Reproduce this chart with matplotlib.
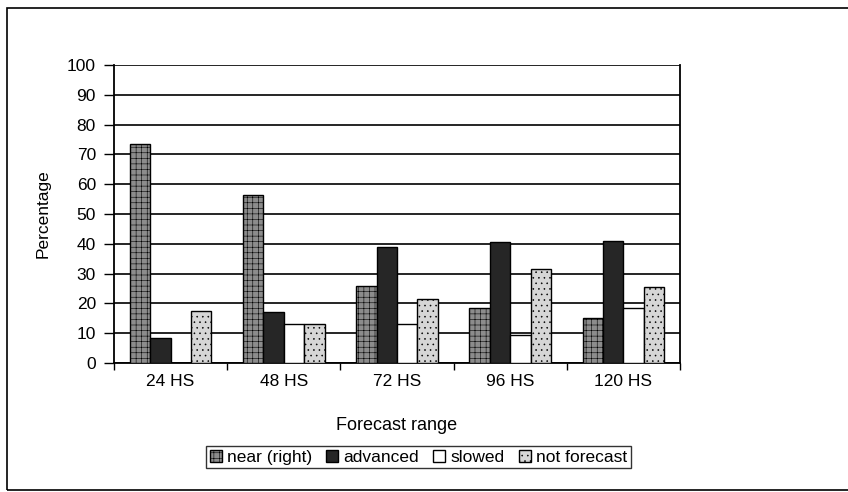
import numpy as np
import matplotlib.pyplot as plt
from matplotlib.patches import Rectangle

categories = ['24 HS', '48 HS', '72 HS', '96 HS', '120 HS']
near_right = [73.5, 56.5, 26, 18.5, 15]
advanced = [8.5, 17, 39, 40.5, 41]
slowed = [0, 13, 13, 9.5, 18.5]
not_forecast = [17.5, 13, 21.5, 31.5, 25.5]

series = [
    ('near (right)', near_right, '#8c8c8c', '+++'),
    ('advanced', advanced, '#262626', ''),
    ('slowed', slowed, 'white', ''),
    ('not forecast', not_forecast, '#d6d6d6', '...'),
]

plt.rcParams['font.family'] = ['Liberation Sans', 'DejaVu Sans']
plt.rcParams['hatch.linewidth'] = 0.4
plt.rcParams['hatch.color'] = '#555555'

fig = plt.figure(figsize=(8.48, 4.92), dpi=100)
ax = fig.add_axes([114 / 848, 1 - 363 / 492, (680 - 114) / 848, (363 - 65) / 492])

# outer chart border
fig.patches.append(Rectangle((7 / 848, 2 / 492), 1, 1 - 10 / 492,
                             transform=fig.transFigure, fill=False,
                             edgecolor='black', linewidth=1.2))

x = np.arange(len(categories))
width = 0.18
for i, (label, vals, color, hatch) in enumerate(series):
    ax.bar(x + (i - 1.5) * width, vals, width, color=color, edgecolor='black',
           linewidth=1.0, hatch=hatch, label=label, zorder=3)

ax.set_xlim(-0.5, len(categories) - 0.5)
ax.set_ylim(0, 100)
ax.set_yticks(np.arange(0, 101, 10))
ax.grid(axis='y', color='black', linewidth=1.2, zorder=0)
ax.set_xticks(x)
ax.set_xticklabels(categories, fontsize=12.5)
ax.set_xticks(np.arange(-0.5, len(categories), 1), minor=True)
ax.tick_params(axis='x', which='major', length=0, pad=8)
ax.tick_params(axis='x', which='minor', length=5, width=1, direction='out')
ax.tick_params(axis='y', length=7, width=1, labelsize=12.5, pad=6)

for side in ['left', 'bottom', 'right']:
    ax.spines[side].set_linewidth(1.3)
ax.spines['top'].set_visible(False)

ax.set_xlabel('Forecast range', fontsize=13, labelpad=20)
ax.set_ylabel('Percentage', fontsize=12.5, labelpad=12)

leg = ax.legend(loc='upper center', bbox_to_anchor=(0.538, -0.25), ncol=4,
                frameon=True, fancybox=False, edgecolor='black', fontsize=12.5,
                handlelength=0.7, handleheight=0.7, handletextpad=0.3,
                columnspacing=0.8, borderpad=0.2)
leg.get_frame().set_linewidth(1.0)

fig.savefig('out.png', dpi=100)
